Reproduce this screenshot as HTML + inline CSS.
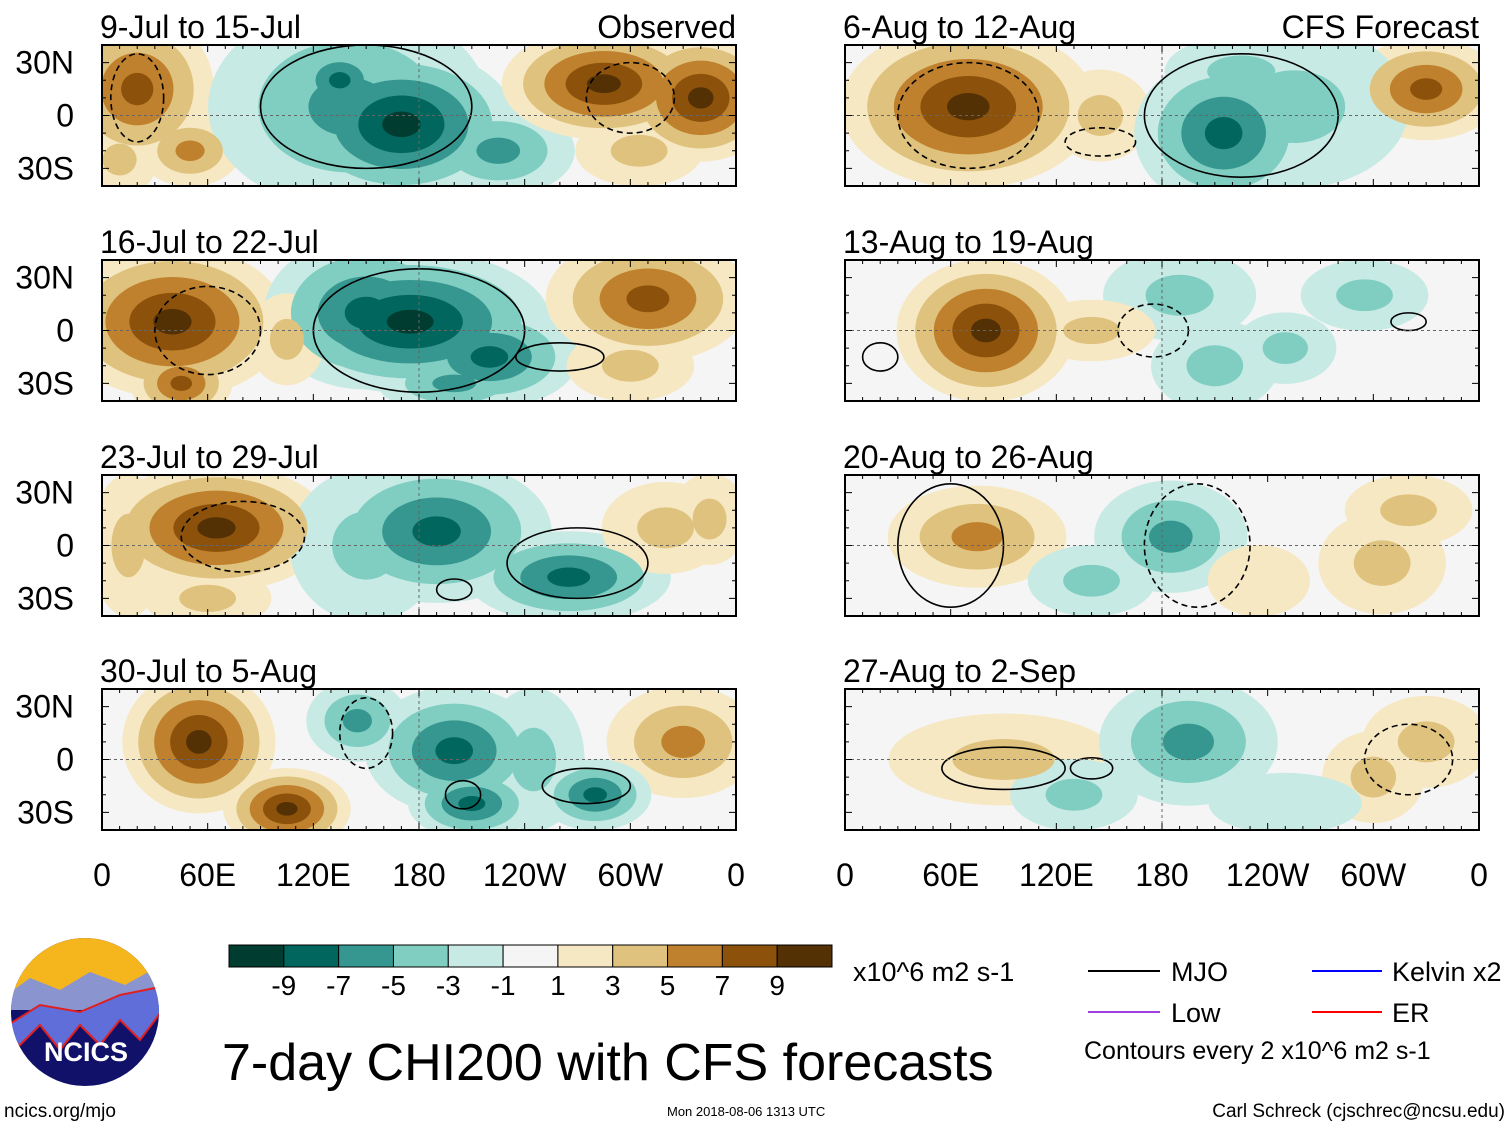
<!DOCTYPE html>
<html><head><meta charset="utf-8"><style>
html,body{margin:0;padding:0;background:#fff}
svg{display:block;font-family:"Liberation Sans",sans-serif}
</style></head><body>
<svg id="s" width="1510" height="1127" viewBox="0 0 1510 1127" xmlns="http://www.w3.org/2000/svg">
<g id="panels"></g>
<g id="xaxes"></g>
<g id="cbar"></g>
<text x="853" y="981" font-size="27">x10^6 m2 s-1</text>
<g font-size="27">
<line x1="1088" y1="971" x2="1160" y2="971" stroke="#000" stroke-width="2"/><text x="1171" y="981">MJO</text>
<line x1="1312" y1="971" x2="1382" y2="971" stroke="#0000ff" stroke-width="2"/><text x="1392" y="981">Kelvin x2</text>
<line x1="1088" y1="1012" x2="1160" y2="1012" stroke="#a040e0" stroke-width="2"/><text x="1171" y="1022">Low</text>
<line x1="1312" y1="1012" x2="1382" y2="1012" stroke="#ff0000" stroke-width="2"/><text x="1392" y="1022">ER</text>
<text x="1084" y="1059" font-size="25">Contours every 2 x10^6 m2 s-1</text>
</g>
<text x="222" y="1080" font-size="52">7-day CHI200 with CFS forecasts</text>
<text x="4" y="1117" font-size="19">ncics.org/mjo</text>
<text x="667" y="1116" font-size="13">Mon 2018-08-06 1313 UTC</text>
<text x="1505" y="1117" font-size="19" text-anchor="end">Carl Schreck (cjschrec@ncsu.edu)</text>
<g>
<clipPath id="lc"><ellipse cx="85" cy="1012" rx="74" ry="74"/></clipPath>
<g clip-path="url(#lc)">
<rect x="0" y="930" width="170" height="170" fill="#11116a"/>
<rect x="0" y="930" width="170" height="60" fill="#f5b51c"/>
<path d="M0 1000 L30 978 L60 990 L90 972 L125 985 L170 960 L170 1010 L0 1010Z" fill="#8a95d0"/>
<path d="M0 1030 L40 1005 L80 1012 L120 995 L170 985 L170 1000 L140 1040 L120 1020 L100 1045 L80 1025 L60 1050 L40 1025 L20 1045 L0 1040Z" fill="#5f6ed8" stroke="#e02020" stroke-width="2"/>
</g>
<text x="86" y="1061" font-size="27" font-weight="bold" fill="#fff" text-anchor="middle">NCICS</text>
</g>
</svg>
<script>
// ---- data ----
const panelTitles = ["9-Jul to 15-Jul","16-Jul to 22-Jul","23-Jul to 29-Jul","30-Jul to 5-Aug","6-Aug to 12-Aug","13-Aug to 19-Aug","20-Aug to 26-Aug","27-Aug to 2-Sep"];
const colorLevels = [-9,-7,-5,-3,-1,1,3,5,7,9];
const xTickLabels = ["0","60E","120E","180","120W","60W","0"];
const xTickLons = [0,60,120,180,240,300,360];
const yTickLabels = ["30N","0","30S"];
const yTickLats = [30,0,-30];
// anomaly centres per panel: [lon, lat, value, rxDeg, ryDeg]
const blobs0 = [[20,15,7,30,30],[50,-20,5,20,14],[140,5,-5,55,40],[170,-5,-9,45,30],[135,20,-7,20,15],[225,-20,-5,30,18],[285,18,9,40,22],[340,10,9,30,25],[305,-20,3,25,14],[10,-25,3,15,14]];
const blobs1 = [[40,5,9,45,30],[45,-30,7,20,14],[175,5,-9,55,28],[150,10,-7,40,30],[220,-15,-7,35,20],[200,-30,-5,30,12],[310,18,7,40,25],[300,-20,3,25,14],[105,-5,3,15,18]];
const blobs2 = [[65,10,9,45,25],[15,0,3,15,28],[190,8,-7,45,28],[265,-18,-7,40,18],[150,0,-3,30,30],[320,10,3,25,18],[345,15,3,15,18],[60,-30,3,25,12]];
const blobs3 = [[55,10,9,30,28],[105,-28,9,25,16],[330,10,5,30,22],[145,22,-5,20,16],[200,5,-7,35,25],[210,-25,-7,25,14],[280,-20,-7,22,14],[245,0,-3,20,28]];
const blobs4 = [[70,5,9,50,32],[330,15,7,30,20],[145,0,3,20,18],[215,-10,-7,35,30],[255,5,-3,45,32],[225,25,-3,30,14]];
const blobs5 = [[80,0,9,35,28],[190,20,-3,30,18],[295,20,-3,25,14],[210,-20,-3,25,18],[140,0,3,25,12],[250,-10,-3,20,14]];
const blobs6 = [[75,5,5,35,20],[185,5,-5,30,22],[140,-20,-3,25,14],[305,-10,3,25,20],[235,-20,1,20,14],[320,20,3,25,14]];
const blobs7 = [[90,0,3,45,18],[195,10,-5,35,25],[130,-20,-3,25,14],[330,10,3,25,18],[300,-10,3,20,18],[250,-25,-1,30,12]];
const allBlobs = [blobs0,blobs1,blobs2,blobs3,blobs4,blobs5,blobs6,blobs7];
// MJO contours: [lon, lat, rxDeg, ryDeg, dashed]
const contours0 = [[150,5,60,35,0],[300,10,25,20,1],[20,10,15,25,1]];
const contours1 = [[180,0,60,35,0],[260,-15,25,8,0],[60,0,30,25,1]];
const contours2 = [[270,-10,40,20,0],[200,-25,10,6,0],[80,5,35,20,1]];
const contours3 = [[275,-15,25,10,0],[205,-20,10,8,0],[150,15,15,20,1]];
const contours4 = [[225,0,55,35,0],[70,0,40,30,1],[145,-15,20,8,1]];
const contours5 = [[175,0,20,15,1],[320,5,10,5,0],[20,-15,10,8,0]];
const contours6 = [[60,0,30,35,0],[200,0,30,35,1]];
const contours7 = [[90,-5,35,12,0],[320,0,25,20,1],[140,-5,12,6,0]];
const allContours = [contours0,contours1,contours2,contours3,contours4,contours5,contours6,contours7];

const colors = ["#003c30","#01665e","#35978f","#80cdc1","#c7eae5","#f5f5f5","#f6e8c3","#dfc27d","#bf812d","#8c510a","#543005"];
const NS="http://www.w3.org/2000/svg";
function mk(t,a,p){const e=document.createElementNS(NS,t);for(const k in a)e.setAttribute(k,a[k]);p.appendChild(e);return e;}
const W=634,H=141,K=1.45;
const lefts=[102,845], tops=[45,260,475,689];
const G=document.getElementById('panels');
for(let i=0;i<8;i++){
  const px=lefts[i<4?0:1], py=tops[i%4];
  const xs=l=>px+l/360*W, ys=t=>py+(40-t)/80*H;
  const g=mk('g',{},G);
  
  
  const cid='c'+i;
  const cp=mk('clipPath',{id:cid},g);mk('rect',{x:px,y:py,width:W,height:H},cp);
  const inner=mk('g',{'clip-path':'url(#'+cid+')'},g);
  mk('rect',{x:px,y:py,width:W,height:H,fill:'#f5f5f5'},inner);
  const fg=mk('g',{},inner);
  [1,3,5,7,9].forEach(t=>{
    allBlobs[i].forEach(b=>{
      const v=Math.abs(b[2]); if(v<t) return;
      const s=(v-t+1.6)/(v+0.6);
      const idx=b[2]>0?5+(t+1)/2:5-(t+1)/2;
      const e=mk('ellipse',{cx:xs(b[0]),cy:ys(b[1]),rx:K*b[3]*s*W/360,ry:K*b[4]*s*H/80,fill:colors[idx]},fg);
      
      
    });
  });
  allContours[i].forEach(c=>{
    const e=mk('ellipse',{cx:xs(c[0]),cy:ys(c[1]),rx:c[2]*W/360,ry:c[3]*H/80,fill:'none',stroke:'#000','stroke-width':1.6,'stroke-dasharray':c[4]?'6,4':'none'},inner);
    
    
  });
  mk('line',{x1:px,y1:ys(0),x2:px+W,y2:ys(0),stroke:'#666','stroke-dasharray':'3,3'},inner);
  mk('line',{x1:xs(180),y1:py,x2:xs(180),y2:py+H,stroke:'#666','stroke-dasharray':'3,3'},inner);
  mk('rect',{x:px,y:py,width:W,height:H,fill:'none',stroke:'#000','stroke-width':2},g);
  for(let l=0;l<=360;l+=10){const len=l%60==0?7:4;
    mk('line',{x1:xs(l),y1:py,x2:xs(l),y2:py+len,stroke:'#000'},g);
    mk('line',{x1:xs(l),y1:py+H,x2:xs(l),y2:py+H-len,stroke:'#000'},g);}
  for(let t=-40;t<=40;t+=10){const len=t%30==0?7:4;
    mk('line',{x1:px,y1:ys(t),x2:px+len,y2:ys(t),stroke:'#000'},g);
    mk('line',{x1:px+W,y1:ys(t),x2:px+W-len,y2:ys(t),stroke:'#000'},g);}
  const tt=mk('text',{x:px-2,y:py-7,'font-size':32},g);tt.textContent=panelTitles[i];
  
  
  if(i==0||i==4){const o=mk('text',{x:px+W,y:py-7,'font-size':32,'text-anchor':'end'},g);o.textContent=i==0?'Observed':'CFS Forecast';
    
    }
  if(i<4){yTickLats.forEach((t,k)=>{const y=mk('text',{x:74,y:ys(t)+11,'font-size':32,'text-anchor':'end'},g);y.textContent=yTickLabels[k];
    
    });}
}
const XA=document.getElementById('xaxes');
lefts.forEach(px=>{xTickLons.forEach((l,k)=>{const t=mk('text',{x:px+l/360*W,y:886,'font-size':32,'text-anchor':'middle'},XA);t.textContent=xTickLabels[k];
  
  });});
const CB=document.getElementById('cbar');
const cbx=229,cbw=603/11;
colors.forEach((c,k)=>{const r=mk('rect',{x:cbx+k*cbw,y:945,width:cbw,height:22,fill:c,stroke:'#000'},CB);
  
  });
colorLevels.forEach((v,k)=>{const t=mk('text',{x:cbx+(k+1)*cbw,y:995,'font-size':28,'text-anchor':'middle'},CB);t.textContent=v;
  
  });
</script>
</body></html>
